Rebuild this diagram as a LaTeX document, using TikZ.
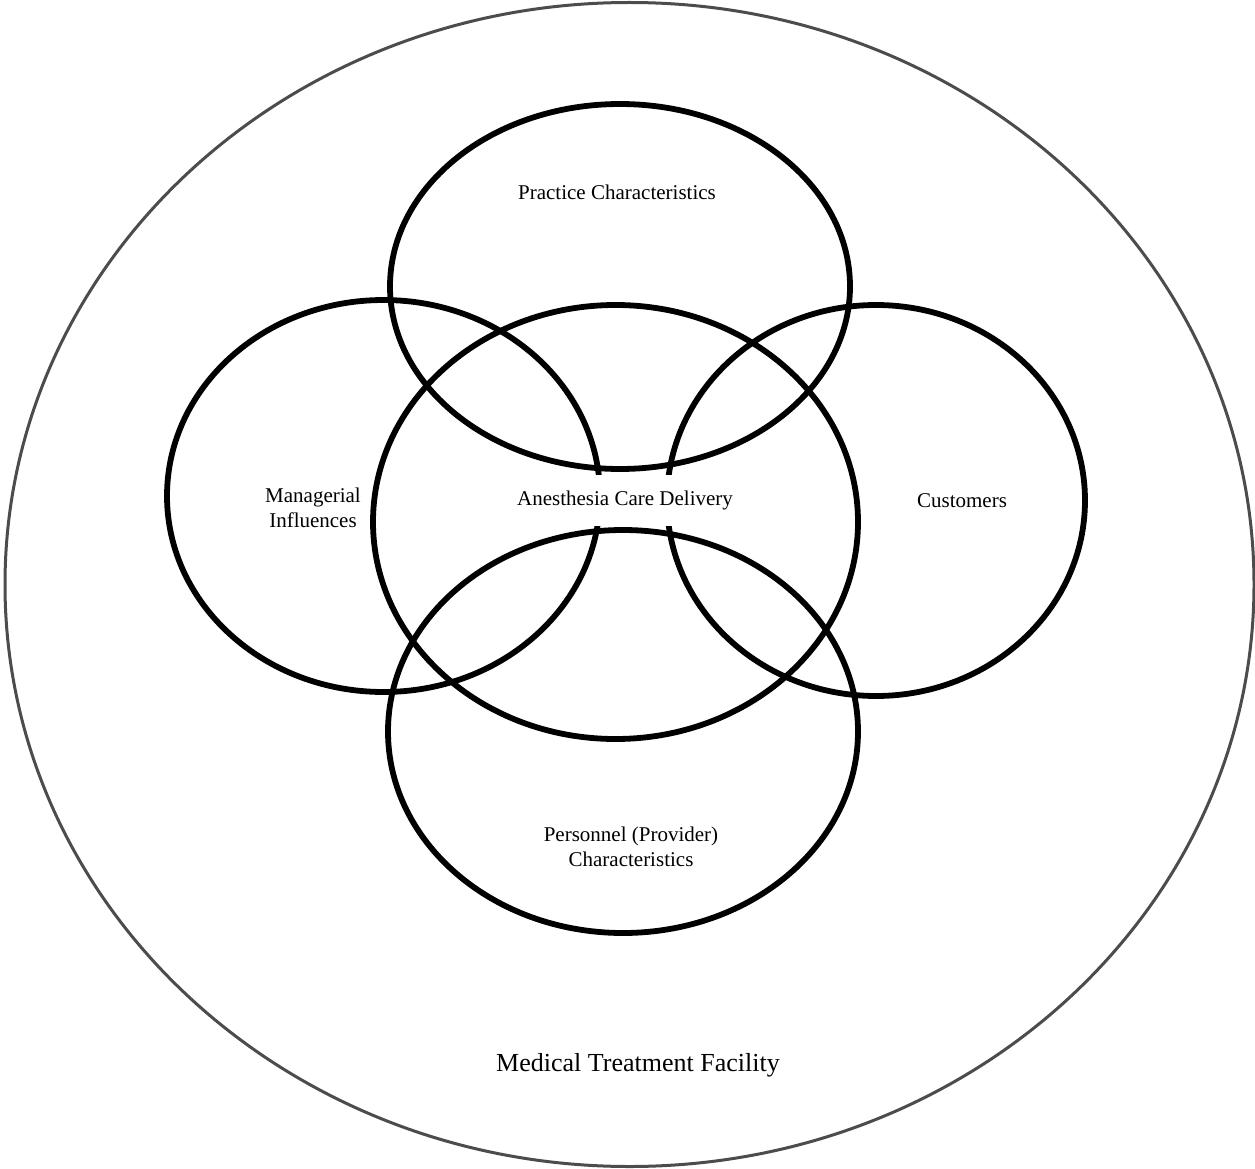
\documentclass[tikz,border=0pt]{standalone}
\usepackage{fontspec}
\setmainfont{Liberation Serif}
\usetikzlibrary{shapes.geometric}
\begin{document}
\begin{tikzpicture}[x=1pt,y=-1pt,
  ring/.style={draw=black, line width=5.8pt, ellipse, inner sep=0pt},
  outer/.style={draw=black!70, line width=3pt, ellipse, inner sep=0pt},
  lbl/.style={font=\fontsize{21}{25}\selectfont, align=center, inner sep=0pt},
  biglbl/.style={font=\fontsize{26}{30}\selectfont, inner sep=0pt}]
\useasboundingbox (0,0) rectangle (1255,1169);
\node[outer, minimum width=1249pt, minimum height=1164pt] (facility) at (629.5,584.5) {};
\node[ring, minimum width=460pt, minimum height=365pt] (practice) at (620,286.5) {};
\node[ring, minimum width=433pt, minimum height=392pt] (managerial) at (383.5,496) {};
\node[ring, minimum width=485pt, minimum height=434pt] (anesthesia) at (615.5,522) {};
\node[ring, minimum width=418pt, minimum height=391pt] (customers) at (876,500.5) {};
\node[ring, minimum width=470pt, minimum height=403pt] (personnel) at (623,731.5) {};
\node[lbl] (practiceT) at (617,192) {Practice Characteristics};
\node[lbl] (managerialT) at (313,508) {Managerial\\Influences};
\node[lbl, fill=white, minimum height=51pt, inner xsep=3pt] (anesthesiaT) at (625,500.5) {Anesthesia Care Delivery};
\node[lbl] (customersT) at (962,501) {Customers};
\node[lbl] (personnelT) at (631,847) {Personnel (Provider)\\Characteristics};
\node[biglbl] (facilityT) at (638,1065) {Medical Treatment Facility};
\end{tikzpicture}
\end{document}
